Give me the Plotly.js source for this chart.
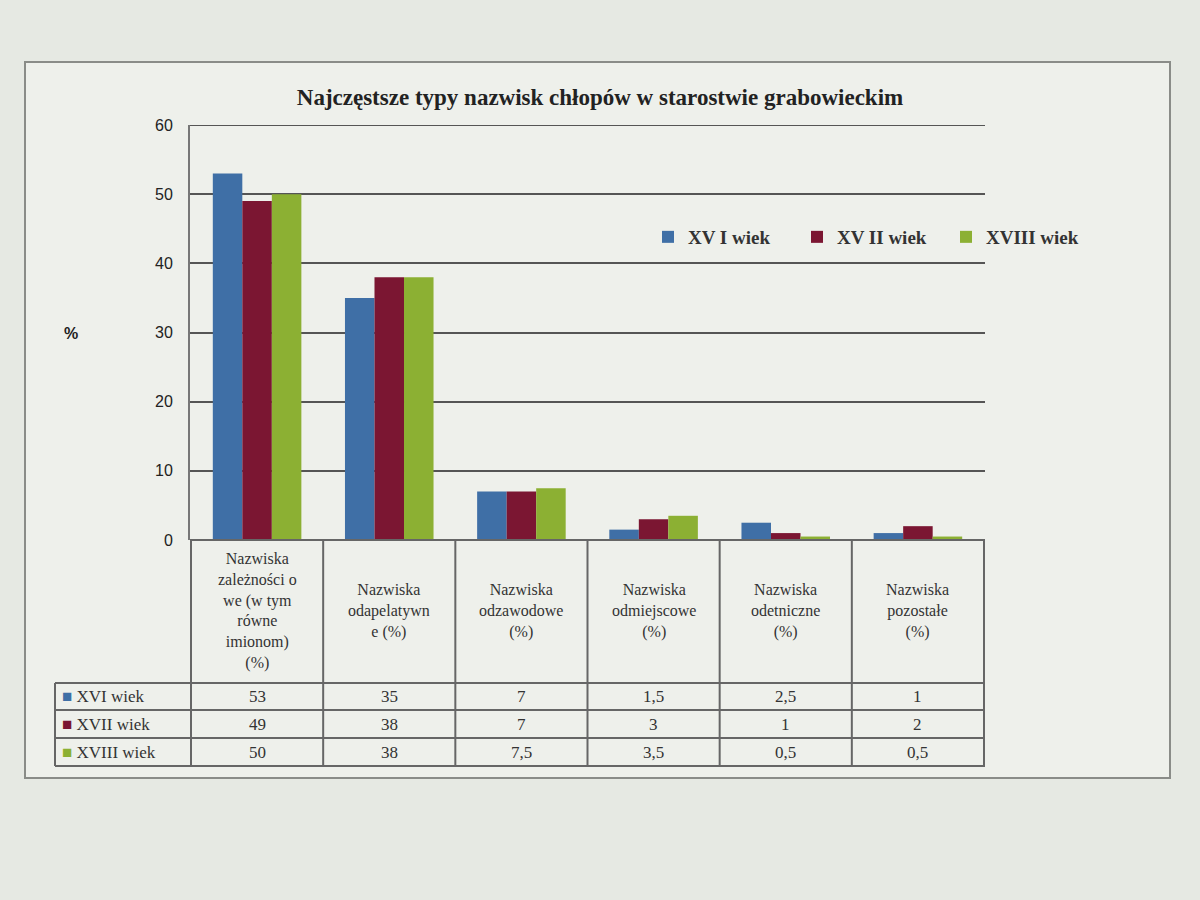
<!DOCTYPE html>
<html>
<head>
<meta charset="utf-8">
<script src="https://cdn.plot.ly/plotly-3.0.1.min.js"></script>
<style>html,body{margin:0;padding:0;background:#e6e9e3;}</style>
</head>
<body>
<div id="chart" style="width:1200px;height:900px;"></div>
<script>
// ---- data ----
const categories = ["zaleznosciowe", "odapelatywne", "odzawodowe", "odmiejscowe", "odetniczne", "pozostale"];
const headerLabels = [
  "Nazwiska<br>zależności o<br>we (w tym<br>równe<br>imionom)<br>(%)",
  "Nazwiska<br>odapelatywn<br>e (%)",
  "Nazwiska<br>odzawodowe<br>(%)",
  "Nazwiska<br>odmiejscowe<br>(%)",
  "Nazwiska<br>odetniczne<br>(%)",
  "Nazwiska<br>pozostałe<br>(%)"
];
const seriesNames = ["XVI wiek", "XVII wiek", "XVIII wiek"];
const legendNames = ["XV I wiek", "XV II wiek", "XVIII wiek"];
const xvi = [53, 35, 7, 1.5, 2.5, 1];
const xvii = [49, 38, 7, 3, 1, 2];
const xviii = [50, 38, 7.5, 3.5, 0.5, 0.5];
const yTicks = [0, 10, 20, 30, 40, 50, 60];

const seriesValues = [xvi, xvii, xviii];
const colors = ["#3f6fa6", "#7b1632", "#8cb033"];

const traces = seriesValues.map((vals, i) => ({
  type: "bar",
  x: categories,
  y: vals,
  name: legendNames[i],
  marker: {color: colors[i]}
}));

// helpers px -> paper
const px = x => (x - 190) / 795;
const py = y => (540 - y) / 415;

const lineColor = "#666";
const shapes = [];
// frame
shapes.push({type: "rect", xref: "paper", yref: "paper", x0: px(25), x1: px(1170), y0: py(62), y1: py(778),
  fillcolor: "#eef0eb", line: {color: "#8a8c88", width: 2}, layer: "below"});
// top gridline at max tick
shapes.push({type: "line", xref: "paper", yref: "y", x0: 0, x1: 1, y0: yTicks[yTicks.length - 1], y1: yTicks[yTicks.length - 1],
  line: {color: "#555", width: 2}, layer: "below"});
// table horizontal lines
const rowYs = [683, 710, 738, 766];
shapes.push({type: "line", xref: "paper", yref: "paper", x0: 0, x1: 1, y0: 0, y1: 0, line: {color: lineColor, width: 2}});
rowYs.forEach(y => shapes.push({type: "line", xref: "paper", yref: "paper", x0: px(55), x1: 1, y0: py(y), y1: py(y), line: {color: lineColor, width: 2}}));
// verticals
for (let k = 0; k <= categories.length; k++) {
  shapes.push({type: "line", xref: "x", yref: "paper", x0: k - 0.5, x1: k - 0.5, y0: 0, y1: py(766), line: {color: lineColor, width: 2}});
}
shapes.push({type: "line", xref: "paper", yref: "paper", x0: px(55), x1: px(55), y0: py(683), y1: py(766), line: {color: lineColor, width: 2}});

const annotations = [];
const serif = "Liberation Serif, Times New Roman, serif";
headerLabels.forEach((t, i) => annotations.push({
  xref: "x", yref: "paper", x: categories[i], y: py(611), yanchor: "middle", xanchor: "center",
  text: t, showarrow: false,
  font: {family: serif, size: 16, color: "#333"}, align: "center"
}));
const rowCenters = [696.5, 724, 752];
seriesValues.forEach((vals, s) => {
  vals.forEach((v, i) => annotations.push({
    xref: "x", yref: "paper", x: categories[i], y: py(rowCenters[s]), yanchor: "middle", xanchor: "center",
    text: String(v).replace(".", ","), showarrow: false,
    font: {family: serif, size: 17, color: "#333"}
  }));
  annotations.push({
    xref: "paper", yref: "paper", x: px(60), y: py(rowCenters[s]), xanchor: "left", yanchor: "middle",
    text: '<span style="color:' + colors[s] + '">■</span> ' + seriesNames[s], showarrow: false,
    font: {family: serif, size: 17, color: "#333"}
  });
});
annotations.push({xref: "paper", yref: "paper", x: px(62), y: py(333), yanchor: "middle", text: "<b>%</b>", showarrow: false,
  font: {family: "Liberation Sans, Arial, sans-serif", size: 16, color: "#222"}});

const layout = {
  width: 1200, height: 900,
  paper_bgcolor: "#e6e9e3",
  plot_bgcolor: "rgba(0,0,0,0)",
  margin: {l: 190, r: 215, t: 125, b: 360, autoexpand: false},
  title: {
    text: "<b>Najczęstsze typy nazwisk chłopów w starostwie grabowieckim</b>",
    x: 0.5, xref: "container", y: 1 - 97 / 900, yref: "container", yanchor: "middle",
    font: {family: serif, size: 23, color: "#222"}
  },
  barmode: "group",
  bargap: 0.33,
  bargroupgap: 0,
  xaxis: {showticklabels: false, showgrid: false, zeroline: false, showline: false, fixedrange: true},
  yaxis: {
    range: [0, 60], tickvals: yTicks, ticktext: yTicks.map(String),
    showgrid: true, gridcolor: "#555", gridwidth: 2,
    showline: true, linecolor: "#777", linewidth: 2,
    zeroline: false, ticks: "", ticklabelstandoff: 12,
    tickfont: {family: "Liberation Sans, Arial, sans-serif", size: 16, color: "#222"}
  },
  showlegend: true,
  legend: {
    orientation: "h", x: px(648), y: py(237), xanchor: "left", yanchor: "middle",
    bgcolor: "rgba(0,0,0,0)",
    font: {family: serif, size: 19, color: "#333", weight: "bold"},
    itemwidth: 30, traceorder: "normal",
    entrywidth: 104, entrywidthmode: "pixels"
  },
  shapes: shapes,
  annotations: annotations
};

Plotly.newPlot("chart", traces, layout, {displayModeBar: false, staticPlot: true});
</script>
</body>
</html>
